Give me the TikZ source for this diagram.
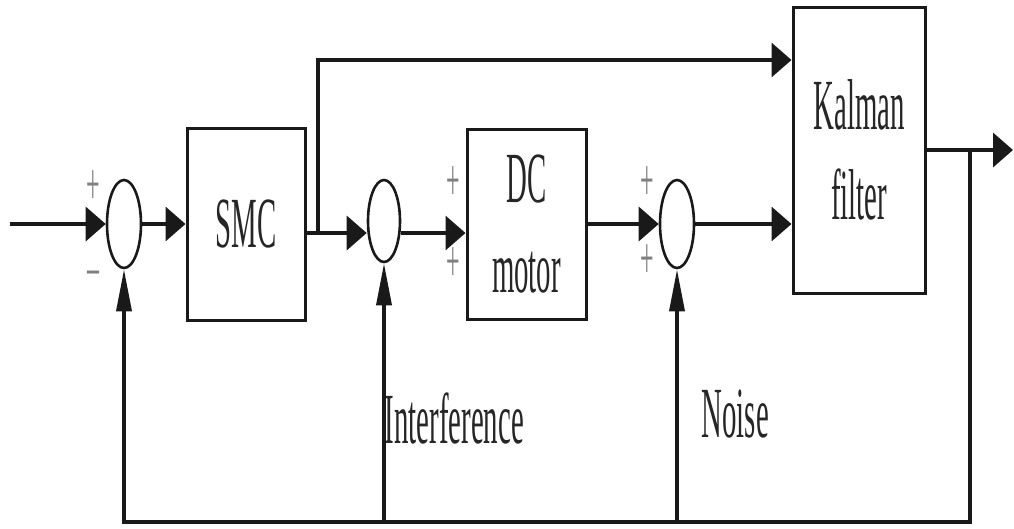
\documentclass[tikz,border=0pt]{standalone}
\usepackage{graphicx}
\usepackage{fontspec}
\setmainfont{Liberation Serif}
\usetikzlibrary{arrows.meta,shapes.geometric}
\newcommand{\sqz}[1]{\scalebox{0.4}[1]{#1}}

\begin{document}
\begin{tikzpicture}[x=1pt, y=-1pt, line width=3.5pt, draw=black!90,
  blk/.style={draw, line width=3pt, inner sep=0pt, align=center, text=black!85,
    font=\fontsize{72}{90}\selectfont},
  sumnode/.style={draw, ellipse, line width=2.6pt, inner sep=0pt,
    minimum width=34pt, minimum height=88pt},
  sgn/.style={text=black!50, inner sep=0pt, font=\fontsize{60}{60}\selectfont},
  lbl/.style={text=black!85, inner sep=0pt, font=\fontsize{72}{87}\selectfont},
  hto/.style={-{Triangle[length=20pt,width=34pt]}},
  vto/.style={-{Triangle[length=42pt,width=15pt]}}]
  \useasboundingbox (0,0) rectangle (1014,528);

  % blocks and summing points
  \node[sumnode] (sumA) at (124,224) {};
  \node[blk, minimum width=118pt, minimum height=192pt] (smc) at (246,224) {\sqz{SMC}};
  \node[sumnode, minimum width=32pt, minimum height=82pt] (sumB) at (384,221) {};
  \node[blk, minimum width=119pt, minimum height=190pt] (dc) at (526.5,224) {\sqz{DC}\\\sqz{motor}};
  \node[sumnode] (sumC) at (677,224) {};
  \node[blk, minimum width=132pt, minimum height=286pt] (kal) at (859,150) {\sqz{Kalman}\\\sqz{filter}};

  % signs
  \node[sgn] (pA) at (93,188) {\sqz{+}};
  \node[sgn] (mA) at (93,279) {\sqz{--}};
  \node[sgn] (pB1) at (453,184) {\sqz{+}};
  \node[sgn] (pB2) at (453,265) {\sqz{+}};
  \node[sgn] (pC1) at (647,184) {\sqz{+}};
  \node[sgn] (pC2) at (647,262) {\sqz{+}};

  % labels
  \node[lbl, anchor=base west] (interf) at (383,443) {\sqz{Interference}};
  \node[lbl, anchor=base west] (noise) at (700,437) {\sqz{Noise}};

  \coordinate (in) at (10,224);
  \coordinate (split) at (318,233);
  \coordinate (tap) at (970,150);
  \coordinate (out) at (1013,150);
  \coordinate (fb) at (970,522);

  % forward path
  \draw[hto] (in) -- (sumA);
  \draw[hto] (sumA) -- (smc);
  \draw[hto] (smc.east |- split) -- (split) -- (split -| sumB.west);
  \draw[hto] (sumB.east |- split) -- (dc.west |- split);
  \draw[hto] (dc) -- (sumC);
  \draw[hto] (sumC) -- (sumC -| kal.west);
  \draw[hto] (split) |- ([yshift=90pt]kal.west);
  \draw[hto] (kal) -- (out);

  % feedback and disturbances
  \draw[vto] (tap) -- (fb) -| (sumA);
  \draw[vto] (sumB |- fb) -- (sumB);
  \draw[vto] (sumC |- fb) -- (sumC);
\end{tikzpicture}
\end{document}
